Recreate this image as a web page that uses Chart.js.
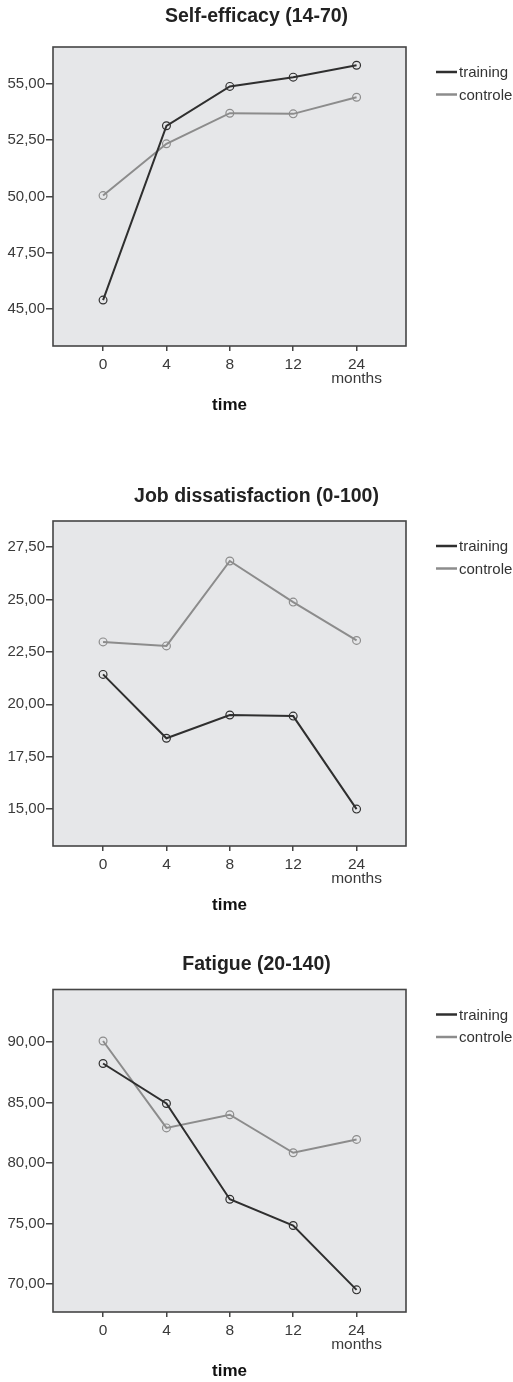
<!DOCTYPE html>
<html>
<head>
<meta charset="utf-8">
<script src="https://cdn.jsdelivr.net/npm/chart.js@4.4.1/dist/chart.umd.min.js"></script>
<style>
  html, body { margin: 0; padding: 0; background: #fff; }
  body { width: 513px; height: 1382px; position: relative; overflow: hidden; }
  .box { position: absolute; left: 0; width: 513px; }
</style>
</head>
<body>
<div class="box" style="top:0px;height:420px"><canvas id="c1" width="513" height="420"></canvas></div>
<div class="box" style="top:470px;height:450px"><canvas id="c2" width="513" height="450"></canvas></div>
<div class="box" style="top:940px;height:442px"><canvas id="c3" width="513" height="442"></canvas></div>
<script>
// gemeenschappelijke gegevens
const timeLabels = ['0', '4', '8', '12', '24'];
const unitLabel = 'months';
const seriesNames = ['training', 'controle'];
const seriesColors = ['#2f2f2f', '#8c8c8c'];

// Self-efficacy (14-70)
const selfTraining = [45.40, 53.14, 54.89, 55.30, 55.83];
const selfControle = [50.04, 52.34, 53.70, 53.67, 54.41];
const selfTicks = [45, 47.5, 50, 52.5, 55];

// Job dissatisfaction (0-100)
const jobTraining = [21.43, 18.38, 19.49, 19.44, 15.00];
const jobControle = [22.98, 22.79, 26.84, 24.88, 23.05];
const jobTicks = [15, 17.5, 20, 22.5, 25, 27.5];

// Fatigue (20-140)
const fatTraining = [88.22, 84.92, 77.01, 74.84, 69.53];
const fatControle = [90.08, 82.90, 83.99, 80.85, 81.95];
const fatTicks = [70, 75, 80, 85, 90];

Chart.defaults.font.family = '"Liberation Sans", Arial, sans-serif';
Chart.defaults.color = '#3a3a3a';

const frameColor = '#454545';

// achtergrond, kader en legenda van het plotvak
const framePlugin = {
    id: 'frame',
    beforeDraw(chart) {
        const a = chart.chartArea, c = chart.ctx;
        c.save();
        c.fillStyle = '#e6e7e9';
        c.fillRect(a.left, a.top, a.right - a.left, a.bottom - a.top);
        c.restore();
    },
    afterDraw(chart) {
        const a = chart.chartArea, c = chart.ctx;
        c.save();
        c.strokeStyle = frameColor;
        c.lineWidth = 1.6;
        c.strokeRect(a.left, a.top, a.right - a.left, a.bottom - a.top);
        // legenda rechts
        c.font = '15px ' + Chart.defaults.font.family;
        c.textBaseline = 'middle';
        chart.data.datasets.forEach((ds, i) => {
            const y = a.top + 25 + i * 22.5;
            c.strokeStyle = ds.borderColor;
            c.lineWidth = 2.5;
            c.beginPath();
            c.moveTo(436, y);
            c.lineTo(457, y);
            c.stroke();
            c.fillStyle = '#333';
            c.fillText(ds.label, 459, y + 1);
        });
        c.restore();
    }
};

function makeChart(id, title, training, controle, yTicks, yMin, yMax, titlePad, xHeight, timePad) {
    const ctx = document.getElementById(id).getContext('2d');
    const series = [training, controle];
    return new Chart(ctx, {
        type: 'line',
        data: {
            datasets: series.map((vals, s) => ({
                label: seriesNames[s],
                data: vals.map((v, i) => ({ x: i, y: v })),
                borderColor: seriesColors[s],
                borderWidth: 2,
                tension: 0,
                pointRadius: 3.9,
                pointBorderWidth: 1.2,
                pointBorderColor: seriesColors[s],
                pointBackgroundColor: 'rgba(0,0,0,0)'
            }))
        },
        options: {
            responsive: false,
            animation: false,
            layout: { padding: 0 },
            plugins: {
                legend: { display: false },
                tooltip: { enabled: false },
                title: {
                    display: true,
                    text: title,
                    color: '#222',
                    font: { size: 19.5, weight: 'bold', lineHeight: 1.2 },
                    padding: titlePad
                }
            },
            scales: {
                x: {
                    type: 'linear',
                    min: -0.79,
                    max: 4.78,
                    afterBuildTicks: sc => { sc.ticks = timeLabels.map((_, i) => ({ value: i })); },
                    afterFit: sc => { sc.height = xHeight; },
                    border: { display: false },
                    grid: { drawOnChartArea: false, drawTicks: true, tickLength: 5, color: frameColor, lineWidth: 1.5 },
                    ticks: {
                        autoSkip: false,
                        maxRotation: 0,
                        padding: 6,
                        color: '#3a3a3a',
                        font: { size: 15.5, lineHeight: 0.95 },
                        callback: (v, i) => i === timeLabels.length - 1 ? [timeLabels[i], unitLabel] : timeLabels[i]
                    },
                    title: {
                        display: true,
                        text: 'time',
                        color: '#111',
                        font: { size: 17, weight: 'bold', lineHeight: 1.2 },
                        padding: { top: 0, bottom: timePad }
                    }
                },
                y: {
                    min: yMin,
                    max: yMax,
                    afterBuildTicks: sc => { sc.ticks = yTicks.map(v => ({ value: v })); },
                    afterFit: sc => { sc.width = 53; },
                    border: { display: false },
                    grid: { drawOnChartArea: false, drawTicks: true, tickLength: 7, color: frameColor, lineWidth: 1.5 },
                    ticks: {
                        padding: 1,
                        color: '#3a3a3a',
                        font: { size: 15 },
                        callback: v => v.toFixed(2).replace('.', ',')
                    }
                },
                // lege ruimte rechts voor de legenda
                side: {
                    position: 'right',
                    afterFit: sc => { sc.width = 107; },
                    border: { display: false },
                    grid: { display: false },
                    ticks: { display: false }
                }
            }
        },
        plugins: [framePlugin]
    });
}

makeChart('c1', 'Self-efficacy (14-70)', selfTraining, selfControle, selfTicks, 43.36, 56.64,
    { top: 5.3, bottom: 18.3 }, 74, 4.3);
makeChart('c2', 'Job dissatisfaction (0-100)', jobTraining, jobControle, jobTicks, 13.24, 28.75,
    { top: 15.3, bottom: 12.3 }, 74, 4.3);
makeChart('c3', 'Fatigue (20-140)', fatTraining, fatControle, fatTicks, 67.7, 94.33,
    { top: 13, bottom: 13.1 }, 70, 0);
</script>
</body>
</html>
